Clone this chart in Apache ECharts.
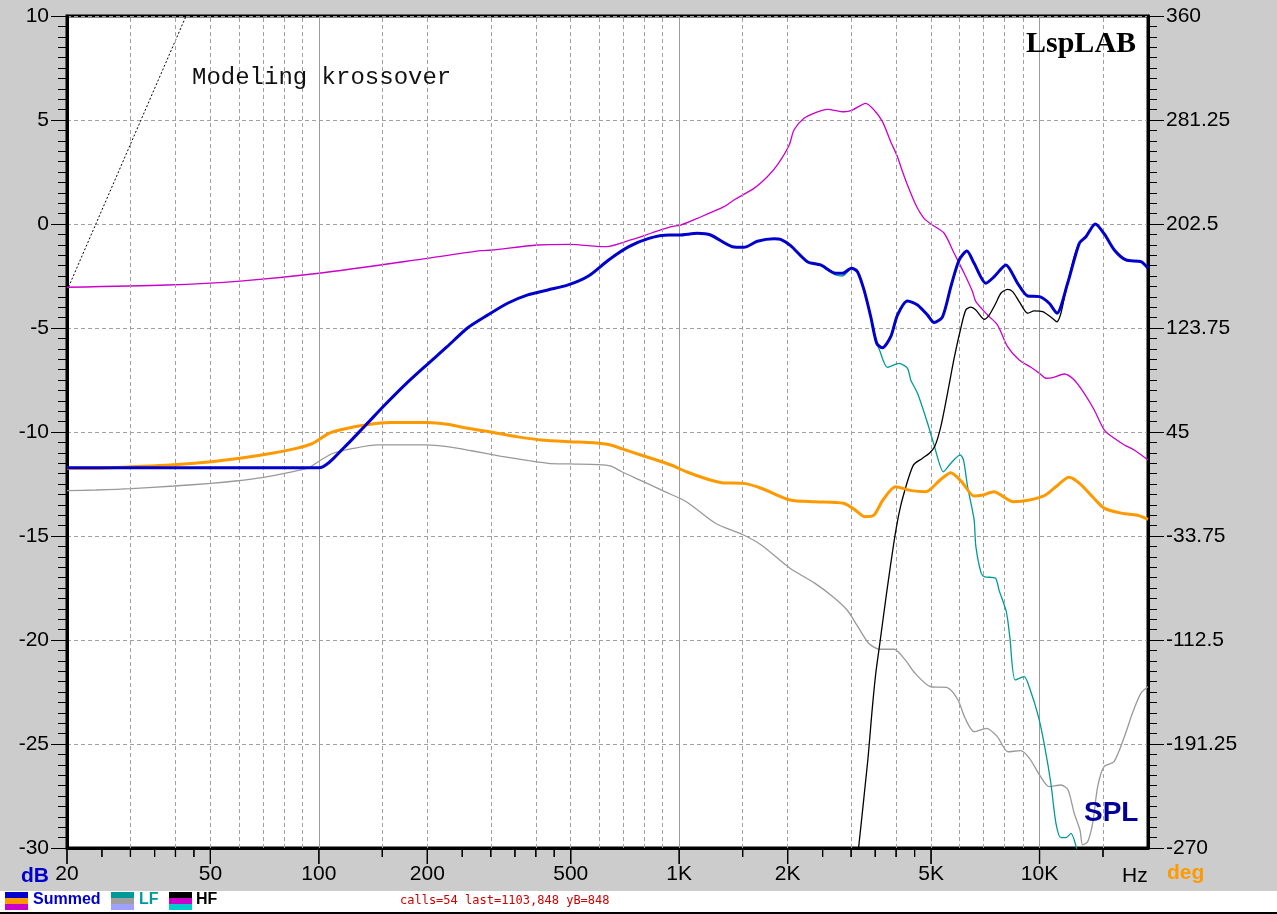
<!DOCTYPE html>
<html><head><meta charset="utf-8">
<script src="https://cdn.jsdelivr.net/npm/echarts@6/dist/echarts.min.js"></script>
<style>html,body{margin:0;padding:0;background:#cccccc;overflow:hidden}#c{width:1277px;height:914px}#d{position:absolute;left:400px;top:893px;font:12px monospace;color:#c00;z-index:9}</style>
</head><body><div id="c"></div><div id="d"></div>
<script>
let dbg = '';
window.onerror = function(m){ dbg += ' ERR:' + m; };
// ---- tick labels / grid positions ----
const xLabelValues = [20, 50, 100, 200, 500, 1000, 2000, 5000, 10000];
const xLabelTexts = ['20', '50', '100', '200', '500', '1K', '2K', '5K', '10K'];
const xMinorTickValues = [25, 30, 35, 40, 45, 150, 250, 300, 350, 400, 450, 1500, 2500, 3000, 3500, 4000, 4500, 15000];
const gridDashedFreqs = [30, 40, 50, 60, 70, 80, 90, 150, 200, 300, 400, 500, 600, 700, 800, 900, 1500, 2000, 3000, 4000, 5000, 6000, 7000, 8000, 9000, 15000];
const gridSolidFreqs = [100, 1000, 10000];
const dbTickLabels = ['-30', '-25', '-20', '-15', '-10', '-5', '0', '5', '10'];
const degTickLabels = ['-270', '-191.25', '-112.5', '-33.75', '45', '123.75', '202.5', '281.25', '360'];

// ---- series: [frequency Hz, value] ----
const summedMag = [[20,-11.72],[100,-11.72],[118,-10.71],[135,-9.66],[154,-8.62],[175,-7.66],[199,-6.78],[227,-5.9],[258,-5.01],[294,-4.38],[334,-3.81],[380,-3.41],[432,-3.17],[492,-2.93],[560,-2.5],[637,-1.73],[725,-1.09],[824,-0.69],[938,-0.53],[1000,-0.53],[1123,-0.45],[1222,-0.53],[1404,-1.09],[1512,-1.12],[1648,-0.83],[1832,-0.71],[1912,-0.74],[2038,-1.04],[2268,-1.81],[2470,-1.97],[2718,-2.37],[2838,-2.37],[3006,-2.13],[3124,-2.29],[3258,-3.17],[3401,-4.46],[3534,-5.74],[3666,-5.95],[3864,-5.42],[4034,-4.38],[4301,-3.70],[4586,-3.89],[4890,-4.38],[5098,-4.74],[5380,-4.46],[5675,-3.01],[5984,-1.73],[6287,-1.30],[6584,-1.89],[7096,-2.85],[7487,-2.53],[8066,-1.97],[8693,-2.85],[9268,-3.46],[10000,-3.49],[10636,-3.81],[11175,-4.29],[11966,-2.85],[12890,-0.93],[13452,-0.61],[14280,0.0],[15127,-0.48],[16126,-1.25],[17372,-1.73],[19126,-1.81],[20000,-2.13]];
const lfMag = [[20,-11.72],[100,-11.72],[118,-10.71],[135,-9.66],[154,-8.62],[175,-7.66],[199,-6.78],[227,-5.9],[258,-5.01],[294,-4.38],[334,-3.81],[380,-3.41],[432,-3.17],[492,-2.93],[560,-2.5],[637,-1.73],[725,-1.09],[824,-0.69],[938,-0.53],[1000,-0.53],[1123,-0.45],[1222,-0.53],[1404,-1.09],[1512,-1.12],[1648,-0.83],[1832,-0.71],[1912,-0.74],[2038,-1.04],[2268,-1.81],[2470,-2.0],[2718,-2.45],[2838,-2.5],[3006,-2.15],[3124,-2.29],[3258,-3.17],[3401,-4.46],[3534,-5.74],[3586,-6.0],[3784,-6.89],[4076,-6.7],[4301,-6.94],[4392,-7.5],[4586,-8.14],[4890,-9.58],[5098,-10.63],[5414,-11.91],[5675,-11.5],[6022,-11.1],[6152,-11.35],[6315,-12.63],[6581,-14.2],[6657,-15.5],[6890,-16.8],[7046,-16.96],[7546,-17.03],[7720,-17.6],[8087,-18.64],[8269,-19.84],[8558,-21.92],[9063,-21.76],[9380,-22.3],[9933,-23.7],[10330,-25.1],[10754,-26.9],[11104,-28.8],[11466,-29.5],[11840,-29.5],[12225,-29.3],[12619,-29.9],[13000,-31]];
const hfMag = [[3080,-31.5],[3338,-25.77],[3431,-23.37],[3512,-21.6],[3594,-20.32],[3762,-17.76],[3940,-15.35],[4074,-13.91],[4217,-12.87],[4465,-11.59],[4725,-11.27],[4948,-11.02],[5118,-10.7],[5322,-9.74],[5554,-8.14],[5795,-6.45],[6048,-5.0],[6245,-4.13],[6446,-4.0],[6657,-4.13],[7020,-4.58],[7248,-4.38],[7564,-3.81],[7810,-3.33],[8153,-3.14],[8420,-3.25],[8782,-3.73],[9268,-4.29],[9667,-4.18],[10200,-4.21],[10872,-4.54],[11175,-4.7],[11466,-4.29],[11840,-3.17],[12485,-1.57],[12890,-0.93],[13452,-0.61],[14280,0.0],[15127,-0.48],[16126,-1.25],[17372,-1.73],[19126,-1.81],[20000,-2.13]];
const summedPhase = [[20,17.5],[24.1,17.5],[30.3,18.7],[38.6,20.0],[50.3,22.5],[61.7,25.5],[74.1,28.9],[86.6,32.6],[96.1,36.4],[106.6,44.0],[118.4,47.5],[134.9,50.3],[157.7,52.1],[199.2,52.1],[227,50.8],[258.6,47.8],[302.4,44.8],[353.4,41.5],[413,39.0],[496,37.7],[580,36.9],[643.6,35.2],[733,30.1],[835,25.1],[950,20.0],[1047,14.9],[1200,9.2],[1315,6.6],[1508,6.1],[1690,2.4],[2030,-6.5],[2382,-7.8],[2858,-9.0],[3062,-13.6],[3278,-19.1],[3471,-17.9],[3676,-6.5],[3982,3.6],[4413,0.6],[4835,-0.2],[5298,8.7],[5675,14.2],[6077,7.4],[6581,-3.5],[6966,-2.7],[7466,-0.2],[8462,-7.8],[9380,-6.5],[10390,-2.7],[11256,4.9],[12060,10.7],[12914,6.1],[14150,-5.2],[15150,-12.8],[16980,-16.6],[18600,-17.9],[20000,-21.1]];
const lfPhase = [[20,0.6],[24.1,1.1],[30.2,2.1],[39.6,4.1],[50.1,6.1],[58.6,7.9],[70.3,10.7],[82.2,14.2],[93.7,18.0],[101.3,23.8],[109.5,28.9],[124.7,32.6],[145.8,35.2],[199,35.2],[227,33.9],[265.4,30.8],[318.4,26.8],[382,23.3],[432,21.3],[496,20.8],[595,20.3],[644,19.3],[693,14.9],[796,7.4],[912,-0.2],[1047,-7.8],[1260,-24.1],[1508,-33.0],[1690,-40.6],[2030,-58.2],[2382,-69.6],[2670,-79.7],[2924,-89.8],[3132,-102.4],[3356,-115.0],[3600,-119.5],[3950,-119.5],[4240,-127.6],[4514,-137.7],[4990,-147.9],[5546,-148.6],[5938,-157.9],[6217,-171.8],[6581,-181.9],[7130,-179.4],[7636,-185.7],[8174,-197.1],[8854,-196.3],[9380,-202.1],[10000,-214.7],[10640,-223.6],[11470,-222.3],[12000,-226.1],[12480,-243.7],[12950,-256.4],[13170,-267.7],[13600,-265.2],[14040,-251.3],[14500,-223.6],[15100,-208.4],[16100,-204.6],[17200,-185.7],[18100,-168.0],[19100,-152.9],[20000,-147.9]];
const hfPhase = [[20,154.6],[37.8,156.3],[60.5,159.3],[100,165.2],[200,176.5],[280.8,182.3],[302,182.8],[402.6,186.6],[496,187.1],[626.8,185.3],[733,190.4],[835,195.5],[950,200.5],[1009,201.7],[1123,206.8],[1331,215.6],[1419,220.7],[1612,229.5],[1756,238.3],[1873,247.2],[2020,262.3],[2082,273.7],[2220,282.5],[2400,287.0],[2578,289.3],[2866,287.5],[3025,288.8],[3294,293.9],[3474,288.8],[3666,280],[3864,264.8],[4034,253.5],[4121,245.9],[4301,232],[4537,216.9],[4781,206.8],[5046,201.7],[5436,195.5],[5795,180.3],[6178,165.2],[6519,151.2],[6657,143.7],[7175,133.6],[7648,126.0],[8153,109.6],[8782,99.5],[9464,94.0],[10000,89.4],[10416,85.7],[10872,86.1],[11710,88.9],[12485,84.4],[13308,74.3],[14186,61.7],[15127,46.5],[16126,40.2],[17192,35.2],[18314,31.4],[20000,23.8]];
const slopeMarker = [[20,-3.2],[42.8,10]];

const FONT = 'Liberation Sans, Arial, sans-serif';
const chart = echarts.init(document.getElementById('c'), null, {renderer:'canvas'});

function xFmt(v){
  const i = xLabelValues.findIndex(x => Math.abs(x - v) / x < 1e-6);
  return i >= 0 ? xLabelTexts[i] : '';
}
function lineSeries(name, data, color, width, yIdx, z){
  return {name, type:'line', data, xAxisIndex:0, yAxisIndex:yIdx, showSymbol:false, symbol:'none',
    smooth:0.25, lineStyle:{color, width}, z, silent:true, animation:false, clip:true};
}
let tickCalls = 0, lastCoord = '';
function tickSeries(values, len){
  return {type:'custom', xAxisIndex:0, yAxisIndex:0, clip:false, silent:true, z:20,
    data: values.map(v => [v, -30]),
    renderItem: function(params, api){
      tickCalls++;
      const p = api.coord([api.value(0), api.value(1)]);
      lastCoord = Math.round(p[0]) + ',' + Math.round(p[1]);
      return {type:'line', shape:{x1:p[0], y1:p[1] + 1, x2:p[0], y2:p[1] + len}, style:{stroke:'#000', lineWidth:1.2}};
    }};
}

const markData = gridDashedFreqs.map(f => ({xAxis:f, lineStyle:{color:'#a0a0a0', type:[4,3], width:1}}))
  .concat(gridSolidFreqs.map(f => ({xAxis:f, lineStyle:{color:'#9a9a9a', type:'solid', width:1}})));

const tickStyle = {color:'#000', width:1};
const staticGraphics = [
  {type:'rect', left:0, top:891, shape:{width:1277, height:21}, style:{fill:'#ffffff'}, z:50},
  {type:'rect', left:0, top:912, shape:{width:1277, height:2}, style:{fill:'#000000'}, z:50},
  {type:'rect', left:5, top:892, shape:{width:23, height:6}, style:{fill:'#0000cc'}, z:51},
  {type:'rect', left:5, top:898, shape:{width:23, height:6}, style:{fill:'#ff9900'}, z:51},
  {type:'rect', left:5, top:904, shape:{width:23, height:6}, style:{fill:'#cc00cc'}, z:51},
  {type:'rect', left:111, top:892, shape:{width:23, height:6}, style:{fill:'#009999'}, z:51},
  {type:'rect', left:111, top:898, shape:{width:23, height:6}, style:{fill:'#a0a0a0'}, z:51},
  {type:'rect', left:111, top:904, shape:{width:23, height:6}, style:{fill:'#a0a0ff'}, z:51},
  {type:'rect', left:169, top:892, shape:{width:23, height:6}, style:{fill:'#000000'}, z:51},
  {type:'rect', left:169, top:898, shape:{width:23, height:6}, style:{fill:'#cc00cc'}, z:51},
  {type:'rect', left:169, top:904, shape:{width:23, height:6}, style:{fill:'#00cccc'}, z:51},
  {type:'text', left:33, top:892, style:{text:'Summed', font:'bold 16px ' + FONT, fill:'#0000cc'}, z:51},
  {type:'text', left:139, top:892, style:{text:'LF', font:'bold 16px ' + FONT, fill:'#009999'}, z:51},
  {type:'text', left:196, top:892, style:{text:'HF', font:'bold 16px ' + FONT, fill:'#000000'}, z:51},
  {type:'text', left:21, top:866, style:{text:'dB', font:'bold 21px ' + FONT, fill:'#0000cc'}, z:51},
  {type:'text', left:1122, top:866, style:{text:'Hz', font:'21px ' + FONT, fill:'#000000'}, z:51},
  {type:'text', left:1167, top:863, style:{text:'deg', font:'bold 21px ' + FONT, fill:'#ff9900'}, z:51},
  {type:'text', left:192, top:66, style:{text:'Modeling krossover', font:'24px Liberation Mono, Courier New, monospace', fill:'#111111'}, z:51},
  {type:'text', left:1026, top:29, style:{text:'LspLAB', font:'bold 30px Liberation Serif, Times New Roman, serif', fill:'#000000', textShadowColor:'#8a8aa8', textShadowOffsetX:2, textShadowOffsetY:2, textShadowBlur:0}, z:51},
  {type:'text', left:1084, top:799, style:{text:'SPL', font:'bold 28px ' + FONT, fill:'#000099'}, z:51}
];

const option = {
  animation:false,
  backgroundColor:'#cccccc',
  grid:{left:67, right:129, top:16, bottom:66, show:true, backgroundColor:'#ffffff', borderColor:'#000', borderWidth:3},
  xAxis:[
    {type:'log', logBase:10, min:20, max:20000, position:'bottom',
      axisLine:{show:true, onZero:false, lineStyle:{color:'#000', width:3}},
      axisTick:{show:false},
      axisLabel:{show:true, customValues:xLabelValues, formatter:xFmt, color:'#000', fontSize:21, fontFamily:FONT, margin:16},
      splitLine:{show:false}}
  ],
  yAxis:[
    {type:'value', min:-30, max:10, interval:5, position:'left',
      axisLine:{show:true, onZero:false, lineStyle:{color:'#000', width:3}},
      axisTick:{show:true, length:16, lineStyle:tickStyle},
      minorTick:{show:true, splitNumber:10, length:9, lineStyle:tickStyle},
      axisLabel:{formatter:v => dbTickLabels[Math.round((v + 30) / 5)], color:'#000', fontSize:21, fontFamily:FONT, margin:18},
      splitLine:{show:true, lineStyle:{color:'#a0a0a0', type:[4,3], width:1}}},
    {type:'value', min:-30, max:10, interval:5, position:'right',
      axisLine:{show:true, onZero:false, lineStyle:{color:'#000', width:3}},
      axisTick:{show:true, length:16, lineStyle:tickStyle},
      minorTick:{show:true, splitNumber:10, length:9, lineStyle:tickStyle},
      axisLabel:{formatter:v => degTickLabels[Math.round((v + 30) / 5)], color:'#000', fontSize:21, fontFamily:FONT, margin:18},
      splitLine:{show:false}},
    {type:'value', min:-270, max:360, show:false, splitLine:{show:false}}
  ],
  series:[
    {name:'grid', type:'line', data:[[20,-30]], showSymbol:false, symbol:'none', lineStyle:{opacity:0}, z:1, silent:true,
      markLine:{silent:true, symbol:['none','none'], label:{show:false}, animation:false, data:markData}},
    tickSeries(xLabelValues, 16),
    tickSeries(xMinorTickValues, 9),
    {name:'slope', type:'line', data:slopeMarker, showSymbol:false, symbol:'none', lineStyle:{color:'#000', width:1, type:[2,2]}, z:2, silent:true, clip:true},
    lineSeries('HF phase', hfPhase, '#cc00cc', 1.3, 2, 3),
    lineSeries('LF phase', lfPhase, '#999999', 1.3, 2, 4),
    lineSeries('LF', lfMag, '#009999', 1.3, 0, 5),
    lineSeries('HF', hfMag, '#000000', 1.3, 0, 6),
    lineSeries('Summed phase', summedPhase, '#ff9900', 3, 2, 7),
    lineSeries('Summed', summedMag, '#0000cc', 3, 0, 8)
  ],
  graphic: staticGraphics
};
try { chart.setOption(option); } catch(e) { dbg += ' EXC1:' + e.message; }

let yBottom = 0;
try {
  yBottom = chart.convertToPixel({yAxisIndex:0}, -30);
  const lines = [];
  const addTicks = (values, len) => values.forEach(v => {
    const x = chart.convertToPixel({xAxisIndex:0}, v);
    lines.push({type:'line', shape:{x1:x, y1:yBottom + 1, x2:x, y2:yBottom + len}, style:{stroke:'#000', lineWidth:1.2}, z:52, silent:true});
  });
  addTicks(xLabelValues, 16);
  addTicks(xMinorTickValues, 9);
  chart.setOption({graphic: staticGraphics.concat(lines)});
} catch(e) { dbg += ' EXC2:' + e.message; }
document.getElementById('d').textContent = 'calls=' + tickCalls + ' last=' + lastCoord + ' yB=' + yBottom + dbg;
</script>
</body></html>
